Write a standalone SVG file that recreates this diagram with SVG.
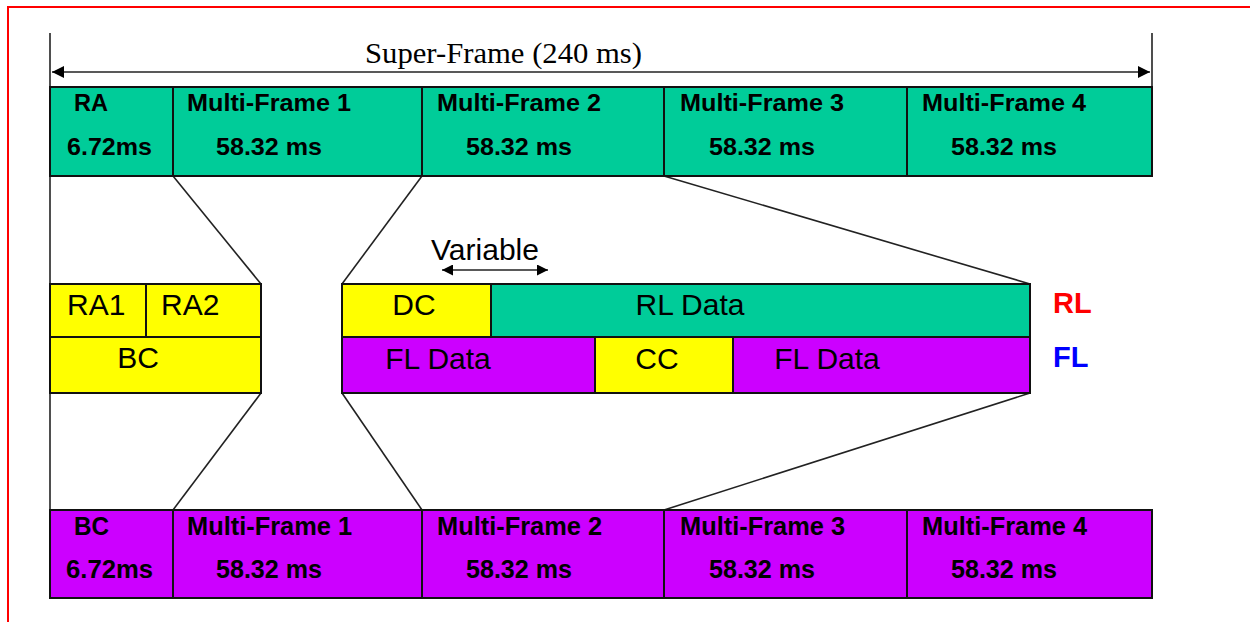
<svg xmlns="http://www.w3.org/2000/svg" width="1250" height="622" viewBox="0 0 1250 622">
<defs>
<marker id="ah" viewBox="0 0 10 10" refX="10" refY="5" markerWidth="16" markerHeight="12" markerUnits="userSpaceOnUse" orient="auto-start-reverse"><path d="M0,0 L10,5 L0,10 Z" fill="#000"/></marker>
<marker id="ahs" viewBox="0 0 10 10" refX="10" refY="5" markerWidth="13" markerHeight="11" markerUnits="userSpaceOnUse" orient="auto-start-reverse"><path d="M0,0 L10,5 L0,10 Z" fill="#000"/></marker>
</defs>
<style>
.teal{fill:#00CC99;stroke:#111;stroke-width:2}
.yel{fill:#FFFF00;stroke:#111;stroke-width:2}
.pur{fill:#CC00FF;stroke:#111;stroke-width:2}
.ln{stroke:#222;stroke-width:1.6;fill:none}
.b{font-family:"Liberation Sans",Arial,sans-serif;font-weight:bold;font-size:24px;fill:#000}
.bn{font-family:"Liberation Sans",Arial,sans-serif;font-weight:bold;font-size:25px;fill:#000}
.r{font-family:"Liberation Sans",Arial,sans-serif;font-size:30px;fill:#000}
.lab{font-family:"Liberation Sans",Arial,sans-serif;font-weight:bold;font-size:29px}
.serif{font-family:"Liberation Serif","Times New Roman",serif;font-size:29px;fill:#000}
</style>
<rect width="1250" height="622" fill="#fff"/>
<g id="border"><path d="M8,622 V7 H1250" fill="none" stroke="#ff0000" stroke-width="2"/></g>

<g id="superframe">
<line x1="50" y1="33" x2="50" y2="510" class="ln" stroke-width="2"/>
<line x1="1152" y1="33" x2="1152" y2="87" class="ln" stroke-width="2"/>
<line x1="52" y1="72" x2="1150" y2="72" class="ln" stroke-width="2" marker-start="url(#ah)" marker-end="url(#ah)"/>
<text x="365" y="63" class="serif" textLength="277" lengthAdjust="spacingAndGlyphs">Super-Frame (240 ms)</text>
</g>

<g id="connectors">
<line x1="173" y1="176" x2="261" y2="284" class="ln"/>
<line x1="422" y1="176" x2="342" y2="284" class="ln"/>
<line x1="664" y1="176" x2="1030" y2="284" class="ln"/>
<line x1="261" y1="393" x2="173" y2="510" class="ln"/>
<line x1="342" y1="393" x2="422" y2="510" class="ln"/>
<line x1="1030" y1="393" x2="664" y2="510" class="ln"/>
</g>

<g id="top-bar">
<rect x="50" y="87" width="123" height="89" class="teal"/>
<rect x="173" y="87" width="249" height="89" class="teal"/>
<rect x="422" y="87" width="242" height="89" class="teal"/>
<rect x="664" y="87" width="243" height="89" class="teal"/>
<rect x="907" y="87" width="245" height="89" class="teal"/>
<text x="74" y="111" class="b" textLength="34" lengthAdjust="spacingAndGlyphs">RA</text>
<text x="67" y="155" class="b" textLength="85" lengthAdjust="spacingAndGlyphs">6.72ms</text>
<text x="187" y="111" class="b" textLength="164" lengthAdjust="spacingAndGlyphs">Multi-Frame 1</text>
<text x="216" y="155" class="b" textLength="106" lengthAdjust="spacingAndGlyphs">58.32 ms</text>
<text x="437" y="111" class="b" textLength="164" lengthAdjust="spacingAndGlyphs">Multi-Frame 2</text>
<text x="466" y="155" class="b" textLength="106" lengthAdjust="spacingAndGlyphs">58.32 ms</text>
<text x="680" y="111" class="b" textLength="164" lengthAdjust="spacingAndGlyphs">Multi-Frame 3</text>
<text x="709" y="155" class="b" textLength="106" lengthAdjust="spacingAndGlyphs">58.32 ms</text>
<text x="922" y="111" class="b" textLength="164" lengthAdjust="spacingAndGlyphs">Multi-Frame 4</text>
<text x="951" y="155" class="b" textLength="106" lengthAdjust="spacingAndGlyphs">58.32 ms</text>
</g>

<g id="left-block">
<rect x="50" y="284" width="96" height="53" class="yel"/>
<rect x="146" y="284" width="115" height="53" class="yel"/>
<rect x="50" y="337" width="211" height="56" class="yel"/>
<text x="67" y="315" class="r">RA1</text>
<text x="161" y="315" class="r">RA2</text>
<text x="138" y="368" text-anchor="middle" class="r">BC</text>
</g>

<g id="right-block">
<rect x="342" y="284" width="149" height="53" class="yel"/>
<rect x="491" y="284" width="539" height="53" class="teal"/>
<rect x="342" y="337" width="253" height="56" class="pur"/>
<rect x="595" y="337" width="138" height="56" class="yel"/>
<rect x="733" y="337" width="297" height="56" class="pur"/>
<text x="414" y="315" text-anchor="middle" class="r">DC</text>
<text x="690" y="315" text-anchor="middle" class="r">RL Data</text>
<text x="438" y="369" text-anchor="middle" class="r">FL Data</text>
<text x="657" y="369" text-anchor="middle" class="r">CC</text>
<text x="827" y="369" text-anchor="middle" class="r">FL Data</text>
</g>

<g id="variable">
<text x="485" y="260" text-anchor="middle" class="r">Variable</text>
<line x1="442" y1="270" x2="548" y2="270" class="ln" stroke-width="2" marker-start="url(#ahs)" marker-end="url(#ahs)"/>
</g>

<g id="labels">
<text x="1053" y="313" class="lab" fill="#ff0000">RL</text>
<text x="1053" y="367" class="lab" fill="#0000ff">FL</text>
</g>

<g id="bottom-bar">
<rect x="50" y="510" width="123" height="88" class="pur"/>
<rect x="173" y="510" width="249" height="88" class="pur"/>
<rect x="422" y="510" width="242" height="88" class="pur"/>
<rect x="664" y="510" width="243" height="88" class="pur"/>
<rect x="907" y="510" width="245" height="88" class="pur"/>
<text x="74" y="535" class="bn" textLength="35" lengthAdjust="spacingAndGlyphs">BC</text>
<text x="66" y="578" class="bn" textLength="87" lengthAdjust="spacingAndGlyphs">6.72ms</text>
<text x="187" y="535" class="bn" textLength="165" lengthAdjust="spacingAndGlyphs">Multi-Frame 1</text>
<text x="216" y="578" class="bn" textLength="106" lengthAdjust="spacingAndGlyphs">58.32 ms</text>
<text x="437" y="535" class="bn" textLength="165" lengthAdjust="spacingAndGlyphs">Multi-Frame 2</text>
<text x="466" y="578" class="bn" textLength="106" lengthAdjust="spacingAndGlyphs">58.32 ms</text>
<text x="680" y="535" class="bn" textLength="165" lengthAdjust="spacingAndGlyphs">Multi-Frame 3</text>
<text x="709" y="578" class="bn" textLength="106" lengthAdjust="spacingAndGlyphs">58.32 ms</text>
<text x="922" y="535" class="bn" textLength="165" lengthAdjust="spacingAndGlyphs">Multi-Frame 4</text>
<text x="951" y="578" class="bn" textLength="106" lengthAdjust="spacingAndGlyphs">58.32 ms</text>
</g>
</svg>
